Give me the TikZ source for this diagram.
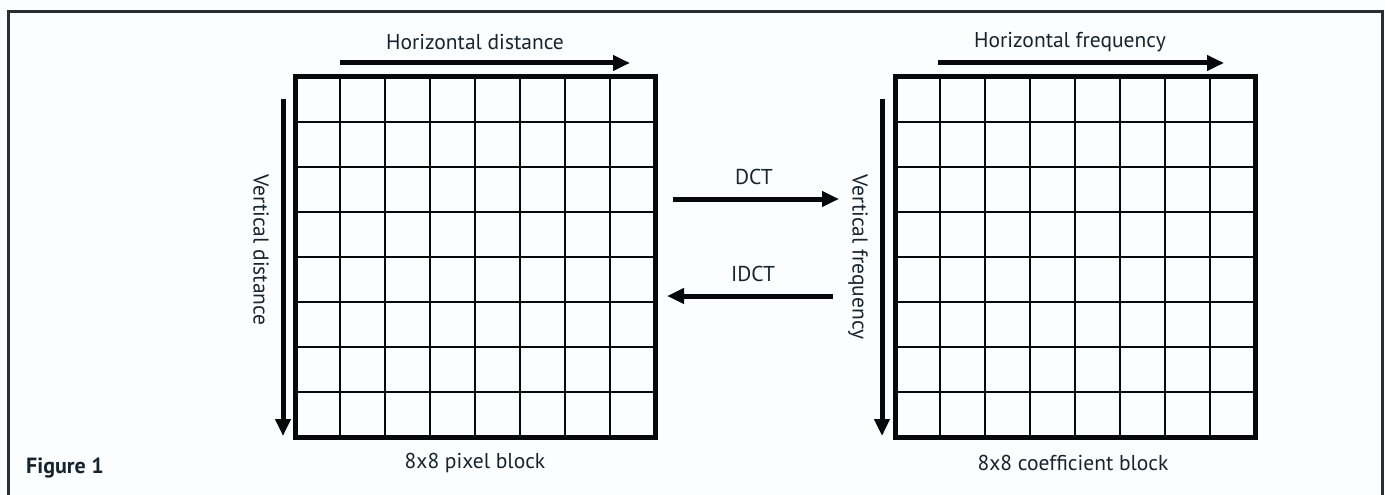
\documentclass[tikz,border=0pt]{standalone}
\usepackage{fontspec}
\setmainfont{PT Sans}
\usetikzlibrary{arrows.meta}
\definecolor{paper}{RGB}{252,253,255}
\definecolor{ink}{RGB}{8,8,10}
\definecolor{textink}{RGB}{22,36,46}
\begin{document}
\begin{tikzpicture}[x=1pt,y=-1pt,
  frame/.style={line width=3pt, draw=ink!85},
  cellline/.style={line width=1.4pt, draw=ink},
  border/.style={line width=5pt, draw=ink},
  bigarrow/.style={line width=5pt, draw=ink, -{Triangle[length=17pt,width=15pt]}},
  lbl/.style={font=\fontsize{21.5}{24}\selectfont, text=textink, inner sep=0pt},
  figlbl/.style={font=\fontsize{22}{24}\selectfont\bfseries, text=textink, inner sep=0pt},
]
\useasboundingbox (0,0) rectangle (1385,495);
\fill[paper] (0,0) rectangle (1385,495);

% outer frame, open at the bottom edge of the page
\begin{scope}
  \clip (0,0) rectangle (1385,495);
  \draw[frame] (8,520) -- (8,12) -- (1382,12) -- (1382,520);
\end{scope}

% two 8x8 blocks
\foreach \ox/\nm in {295/L, 895/R}{
  \coordinate (\nm nw) at (\ox,77);
  \coordinate (\nm se) at (\ox+360,437);
  \foreach \i in {1,...,7}{
    \draw[cellline] (\ox+\i*45,77) -- (\ox+\i*45,437);
    \draw[cellline] (\ox,77+\i*45) -- (\ox+360,77+\i*45);
  }
  \draw[border] (\nm nw) rectangle (\nm se);
}

% axis arrows
\coordinate (Lh0) at (340,63);  \coordinate (Lh1) at (630,63);
\coordinate (Lv0) at (283,99);  \coordinate (Lv1) at (283,436);
\coordinate (Rh0) at (938,63);  \coordinate (Rh1) at (1224,63);
\coordinate (Rv0) at (882,99);  \coordinate (Rv1) at (882,436);
\draw[bigarrow] (Lh0) -- (Lh1);
\draw[bigarrow] (Lv0) -- (Lv1);
\draw[bigarrow] (Rh0) -- (Rh1);
\draw[bigarrow] (Rv0) -- (Rv1);

% transform arrows
\coordinate (d0) at (673,199);  \coordinate (d1) at (839,199);
\coordinate (i0) at (833,296);  \coordinate (i1) at (667,296);
\draw[bigarrow] (d0) -- (d1);
\draw[bigarrow] (i0) -- (i1);

% labels
\node[lbl] (hd) at (475,42) {Horizontal distance};
\node[lbl] (hf) at (1070,42) {Horizontal frequency};
\node[lbl, rotate=-90] (vd) at (261,250) {Vertical distance};
\node[lbl, rotate=-90] (vf) at (858,257) {Vertical frequency};
\node[lbl] (dct) at (754,177) {DCT};
\node[lbl] (idct) at (753,274) {IDCT};
\node[lbl] (pb) at (475,463) {8x8 pixel block};
\node[lbl] (cb) at (1073,463) {8x8 coefficient block};
\node[figlbl, anchor=west] (fig) at (26,468) {Figure 1};
\end{tikzpicture}
\end{document}
